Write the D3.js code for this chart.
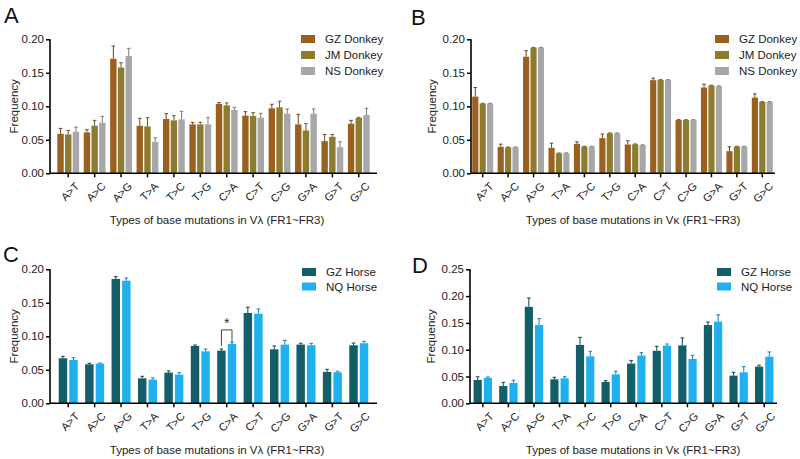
<!DOCTYPE html>
<html>
<head>
<meta charset="utf-8">
<script src="https://cdn.jsdelivr.net/npm/d3@7"></script>
<style>
  body { margin: 0; background: #fff; }
  svg { font-family: "Liberation Sans", Arial, sans-serif; }
</style>
</head>
<body>
<svg id="chart" width="800" height="459"></svg>
<script>
// Categories and series names
const mutations = ["A>T", "A>C", "A>G", "T>A", "T>C", "T>G", "C>A", "C>T", "C>G", "G>A", "G>T", "G>C"];
const donkeyNames = ["GZ Donkey", "JM Donkey", "NS Donkey"];
const horseNames = ["GZ Horse", "NQ Horse"];

// Panel A: donkey, V lambda (mean and upper error)
const aGZ = [0.059, 0.061, 0.171, 0.071, 0.081, 0.073, 0.1035, 0.086, 0.097, 0.073, 0.048, 0.074];
const aGZerr = [0.008, 0.004, 0.019, 0.011, 0.008, 0.003, 0.002, 0.006, 0.006, 0.015, 0.010, 0.005];
const aJM = [0.058, 0.071, 0.158, 0.070, 0.079, 0.073, 0.1015, 0.0855, 0.0985, 0.064, 0.0545, 0.0825];
const aJMerr = [0.006, 0.008, 0.007, 0.013, 0.007, 0.003, 0.0035, 0.005, 0.009, 0.010, 0.0035, 0.001];
const aNS = [0.062, 0.0755, 0.175, 0.047, 0.0805, 0.073, 0.0945, 0.083, 0.089, 0.089, 0.039, 0.087];
const aNSerr = [0.007, 0.0095, 0.0115, 0.006, 0.012, 0.0105, 0.004, 0.0065, 0.007, 0.007, 0.008, 0.010];

// Panel B: donkey, V kappa
const bGZ = [0.1145, 0.0395, 0.174, 0.038, 0.044, 0.0525, 0.043, 0.139, 0.0795, 0.128, 0.033, 0.113];
const bGZerr = [0.0135, 0.004, 0.009, 0.007, 0.003, 0.006, 0.0055, 0.003, 0.0005, 0.005, 0.0065, 0.0055];
const bJM = [0.104, 0.0388, 0.1875, 0.0298, 0.0398, 0.0597, 0.0433, 0.1393, 0.0795, 0.131, 0.0398, 0.1065];
const bJMerr = [0.0005, 0.0005, 0.0005, 0.0005, 0.0005, 0.0005, 0.0005, 0.0005, 0.0005, 0.0005, 0.0005, 0.0005];
const bNS = [0.104, 0.0388, 0.1875, 0.030, 0.040, 0.0597, 0.042, 0.1393, 0.0796, 0.130, 0.0398, 0.1065];
const bNSerr = [0.0005, 0.0005, 0.0005, 0.0005, 0.0005, 0.0005, 0.0005, 0.0005, 0.0005, 0.0005, 0.0005, 0.0005];

// Panel C: horse, V lambda
const cGZ = [0.0672, 0.0582, 0.1856, 0.0373, 0.0458, 0.0856, 0.0786, 0.1348, 0.0806, 0.0876, 0.0468, 0.0866];
const cGZerr = [0.003, 0.0015, 0.0034, 0.003, 0.0025, 0.0014, 0.0024, 0.0085, 0.005, 0.002, 0.004, 0.0034];
const cNQ = [0.0647, 0.0592, 0.183, 0.0353, 0.0428, 0.0776, 0.0886, 0.1338, 0.0876, 0.0866, 0.0463, 0.0896];
const cNQerr = [0.0033, 0.001, 0.004, 0.0025, 0.003, 0.0034, 0.0024, 0.007, 0.0064, 0.003, 0.0015, 0.003];

// Panel D: horse, V kappa
const dGZ = [0.0435, 0.0323, 0.180, 0.0448, 0.1088, 0.0398, 0.074, 0.098, 0.108, 0.146, 0.0516, 0.0684];
const dGZerr = [0.006, 0.0067, 0.0165, 0.0037, 0.0142, 0.0025, 0.006, 0.0083, 0.014, 0.0057, 0.0062, 0.0026];
const dNQ = [0.0473, 0.038, 0.146, 0.0466, 0.0877, 0.054, 0.089, 0.1076, 0.0827, 0.1524, 0.0578, 0.087];
const dNQerr = [0.0017, 0.005, 0.012, 0.003, 0.0093, 0.0057, 0.0055, 0.0031, 0.0069, 0.0126, 0.0106, 0.0088];

// Axis ticks
const ticks020 = [0, 0.05, 0.10, 0.15, 0.20];
const ticks025 = [0, 0.05, 0.10, 0.15, 0.20, 0.25];

const donkeyColors = ["#9b5f20", "#8d7b30", "#a7a7a9"];
const horseColors = ["#135e68", "#1fb1ef"];

const svg = d3.select("#chart");

function drawPanel(p) {
  const g = svg.append("g");

  const x = d3.scaleBand()
    .domain(mutations)
    .range([p.x0, p.x1])
    .paddingInner(0)
    .paddingOuter(p.padOuter);

  const n = p.names.length;
  const x1 = d3.scaleBand()
    .domain(p.names)
    .range([0, x.bandwidth()])
    .paddingInner(n === 3 ? 0.17 : 0.2)
    .paddingOuter(n === 3 ? 0.3 : 0.35);

  const y = d3.scaleLinear()
    .domain([0, p.yMax])
    .range([p.yBottom, p.yTop]);

  // bars + upper error bars
  p.names.forEach((name, si) => {
    const rows = mutations.map((m, i) => ({ m, v: p.values[si][i], e: p.errors[si][i] }));
    const col = p.colors[si];
    const errCol = d3.color(col).darker(0.9).formatHex();
    const sg = g.append("g");
    sg.selectAll("rect")
      .data(rows)
      .enter()
      .append("rect")
      .attr("x", d => x(d.m) + x1(name))
      .attr("y", d => y(d.v))
      .attr("width", x1.bandwidth())
      .attr("height", d => y(0) - y(d.v))
      .attr("fill", col);

    const cx = d => x(d.m) + x1(name) + x1.bandwidth() / 2;
    sg.selectAll("line.err")
      .data(rows)
      .enter()
      .append("line")
      .attr("x1", cx)
      .attr("x2", cx)
      .attr("y1", d => y(d.v))
      .attr("y2", d => y(d.v + d.e))
      .attr("stroke", errCol)
      .attr("stroke-width", 1);
    sg.selectAll("line.cap")
      .data(rows)
      .enter()
      .append("line")
      .attr("x1", d => cx(d) - 1.8)
      .attr("x2", d => cx(d) + 1.8)
      .attr("y1", d => y(d.v + d.e))
      .attr("y2", d => y(d.v + d.e))
      .attr("stroke", errCol)
      .attr("stroke-width", 1);
  });

  // y axis
  const yAxis = g.append("g")
    .attr("transform", `translate(${p.axisX0},0)`)
    .call(d3.axisLeft(y).tickValues(p.ticks).tickFormat(d3.format(".2f")).tickSize(4).tickPadding(2));
  yAxis.select(".domain").attr("d", `M0,${y(p.yMax)}V${y(0) + 0.75}`).attr("stroke-width", 1.6);
  yAxis.selectAll(".tick line").attr("stroke-width", 1.5);
  yAxis.selectAll("text").attr("font-size", 11.5).attr("fill", "#222").attr("font-family", "Liberation Sans, Arial, sans-serif");

  // x axis
  const xAxis = g.append("g")
    .attr("transform", `translate(0,${y(0)})`)
    .call(d3.axisBottom(x).tickSize(4).tickPadding(3));
  xAxis.select(".domain").attr("d", `M${p.axisX0},0H${p.axisX1}`).attr("stroke-width", 1.6);
  xAxis.selectAll(".tick line").attr("stroke-width", 1.5);
  xAxis.selectAll("text")
    .attr("font-size", 11)
    .attr("fill", "#222")
    .attr("font-family", "Liberation Sans, Arial, sans-serif")
    .attr("text-anchor", "end")
    .attr("dy", "0.35em")
    .attr("transform", "translate(4,6) rotate(-45)");

  // axis titles
  g.append("text")
    .attr("x", p.xTitleX)
    .attr("y", y(0) + 51)
    .attr("text-anchor", "middle")
    .attr("font-size", 11.5)
    .attr("fill", "#222")
    .text(p.xTitle);

  g.append("text")
    .attr("transform", `translate(${p.yTitleX},${(y(0) + y(p.yMax)) / 2}) rotate(-90)`)
    .attr("text-anchor", "middle")
    .attr("font-size", 11.5)
    .attr("fill", "#222")
    .text("Frequency");

  // panel letter
  g.append("text")
    .attr("x", p.letterX)
    .attr("y", p.letterY)
    .attr("font-size", 22)
    .attr("fill", "#111")
    .text(p.letter);

  // legend
  const leg = g.append("g");
  p.names.forEach((name, si) => {
    const ly = p.legY + si * p.legStep;
    leg.append("rect")
      .attr("x", p.legX)
      .attr("y", ly - 4)
      .attr("width", 14)
      .attr("height", 8)
      .attr("fill", p.colors[si]);
    leg.append("text")
      .attr("x", p.legX + 24)
      .attr("y", ly)
      .attr("dy", "0.35em")
      .attr("font-size", 11.5)
      .attr("fill", "#222")
      .text(name);
  });

  return { x, x1, y, g };
}

drawPanel({
  letter: "A", letterX: 4, letterY: 23,
  x0: 50, x1: 377, axisX0: 50, axisX1: 377, padOuter: 0.19,
  yBottom: 173.3, yTop: 39.3, yMax: 0.20, ticks: ticks020,
  names: donkeyNames, colors: donkeyColors,
  values: [aGZ, aJM, aNS], errors: [aGZerr, aJMerr, aNSerr],
  legX: 301, legY: 39, legStep: 16,
  xTitle: "Types of base mutations in Vλ (FR1~FR3)", xTitleX: 217, yTitleX: 18
});

drawPanel({
  letter: "B", letterX: 411, letterY: 25,
  x0: 470, x1: 775, axisX0: 471, axisX1: 775, padOuter: 0,
  yBottom: 173.3, yTop: 39.3, yMax: 0.20, ticks: ticks020,
  names: donkeyNames, colors: donkeyColors,
  values: [bGZ, bJM, bNS], errors: [bGZerr, bJMerr, bNSerr],
  legX: 715, legY: 39, legStep: 16,
  xTitle: "Types of base mutations in Vκ (FR1~FR3)", xTitleX: 633, yTitleX: 436
});

const pc = drawPanel({
  letter: "C", letterX: 3, letterY: 262,
  x0: 50, x1: 377, axisX0: 50, axisX1: 377, padOuter: 0.19,
  yBottom: 403.3, yTop: 269.3, yMax: 0.20, ticks: ticks020,
  names: horseNames, colors: horseColors,
  values: [cGZ, cNQ], errors: [cGZerr, cNQerr],
  legX: 302, legY: 272, legStep: 14.5,
  xTitle: "Types of base mutations in Vλ (FR1~FR3)", xTitleX: 217, yTitleX: 18
});

drawPanel({
  letter: "D", letterX: 412, letterY: 273,
  x0: 470, x1: 777, axisX0: 470, axisX1: 777, padOuter: 0,
  yBottom: 403.3, yTop: 269.3, yMax: 0.25, ticks: ticks025,
  names: horseNames, colors: horseColors,
  values: [dGZ, dNQ], errors: [dGZerr, dNQerr],
  legX: 717, legY: 272, legStep: 14.5,
  xTitle: "Types of base mutations in Vκ (FR1~FR3)", xTitleX: 633, yTitleX: 435
});

// significance bracket on C>A in panel C
const ci = mutations.indexOf("C>A");
const bx1 = pc.x("C>A") + pc.x1("GZ Horse") + pc.x1.bandwidth() / 2;
const bx2 = pc.x("C>A") + pc.x1("NQ Horse") + pc.x1.bandwidth() / 2;
const bTop = pc.y(0.1095);
pc.g.append("path")
  .attr("d", `M${bx1},${pc.y(cGZ[ci] + cGZerr[ci] + 0.005)}V${bTop}H${bx2}V${pc.y(cNQ[ci] + cNQerr[ci] + 0.0005)}`)
  .attr("fill", "none")
  .attr("stroke", "#444")
  .attr("stroke-width", 1);
pc.g.append("text")
  .attr("x", (bx1 + bx2) / 2)
  .attr("y", bTop - 2)
  .attr("text-anchor", "middle")
  .attr("font-size", 14)
  .attr("fill", "#333")
  .text("*");
</script>
</body>
</html>
